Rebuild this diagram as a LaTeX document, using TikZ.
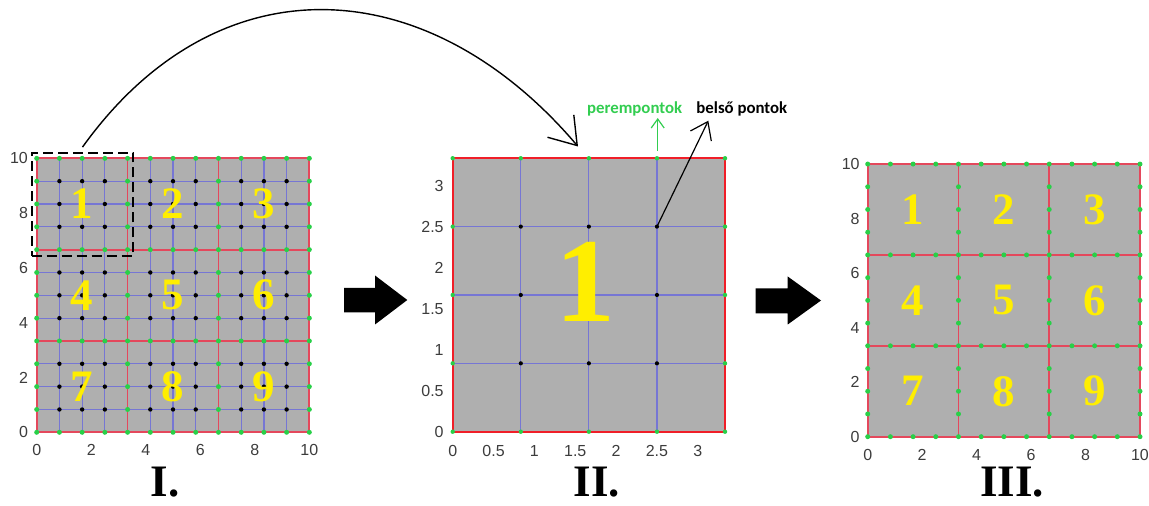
\documentclass[tikz,border=0pt]{standalone}
\usepackage{fontspec}
\setmainfont{Liberation Serif}
\newfontfamily\axisfont{Liberation Sans}
\newfontfamily\labfont{Carlito}
\usetikzlibrary{arrows.meta}
\definecolor{cellgray}{RGB}{175,175,175}
\definecolor{redL}{RGB}{228,72,92}
\definecolor{redM}{RGB}{240,30,40}
\definecolor{gblue}{RGB}{118,118,212}
\definecolor{dotgreen}{RGB}{40,208,72}
\definecolor{labgreen}{RGB}{50,205,80}
\definecolor{numyellow}{RGB}{255,238,0}
\definecolor{tickgray}{RGB}{60,60,60}
\begin{document}
\begin{tikzpicture}[x=0.5pt,y=-0.5pt,
  bline/.style={draw=gblue, line width=0.6pt},
  rlineL/.style={draw=redL, line width=0.85pt},
  rlineM/.style={draw=redM, line width=1pt},
  tick/.style={font=\axisfont\fontsize{8}{8}\selectfont, text=tickgray, inner sep=0pt},
  bignum/.style={font=\bfseries\fontsize{22.5}{22.5}\selectfont, text=numyellow, inner sep=0pt},
  roman/.style={font=\bfseries\fontsize{22.5}{22.5}\selectfont, anchor=base, inner sep=0pt},
  annot/.style={font=\labfont\bfseries\fontsize{8.4}{8.4}\selectfont, anchor=base west, inner sep=0pt},
  blockarrow/.style={fill=black}
]
\useasboundingbox (0,0) rectangle (1149,506);

% ---------- Grid I ----------
\begin{scope}[xshift=18.35pt, yshift=-216.15pt, x=11.36pt, y=11.415pt]
  \fill[cellgray] (0,0) rectangle (12,12);
  \foreach \i in {1,2,3,5,6,7,9,10,11} {
    \draw[bline] (\i,0) -- (\i,12);
    \draw[bline] (0,\i) -- (12,\i);
  }
  \foreach \i in {0,4,8,12} {
    \draw[rlineL] (\i,0) -- (\i,12);
    \draw[rlineL] (0,\i) -- (12,\i);
  }
  \foreach \i in {0,...,12} {
    \foreach \j in {0,...,12} {
      \pgfmathtruncatemacro\onb{(mod(\i,4)==0)||(mod(\j,4)==0)}
      \ifnum\onb=1
        \fill[dotgreen] (\i,\j) circle[radius=1.25pt];
      \else
        \fill[black] (\i,\j) circle[radius=1.1pt];
      \fi
    }
  }
  \foreach \n/\a/\b in {1/2/10,2/6/10,3/10/10,4/2/6,5/6/6,6/10/6,7/2/2,8/6/2,9/10/2}
    \node[bignum] (lnum\n) at (\a,\b) {\n};
  \foreach \v in {0,2,...,10} {
    \node[tick, yshift=-8.85pt] (lx\v) at ({1.2*\v},0) {\v};
    \node[tick, anchor=east, xshift=-4.2pt] (ly\v) at (0,{1.2*\v}) {\v};
  }
\end{scope}

% dashed zoom box
\node[draw, line width=0.9pt, dash pattern=on 5pt off 2.5pt, minimum width=50.8pt,
      minimum height=51.5pt, inner sep=0pt] (zbox) at (82.5,204.2) {};

% ---------- Grid II ----------
\begin{scope}[xshift=226.35pt, yshift=-215.85pt, x=34.04pt, y=34.18pt]
  \fill[cellgray] (0,0) rectangle (4,4);
  \foreach \i in {1,2,3} {
    \draw[bline] (\i,0) -- (\i,4);
    \draw[bline] (0,\i) -- (4,\i);
  }
  \draw[rlineM] (0,0) rectangle (4,4);
  \foreach \i in {0,...,4} {
    \foreach \j in {0,...,4} {
      \pgfmathtruncatemacro\onb{(\i==0)||(\i==4)||(\j==0)||(\j==4)}
      \ifnum\onb=1
        \fill[dotgreen] (\i,\j) circle[radius=1.1pt];
      \else
        \fill[black] (\i,\j) circle[radius=1.05pt];
      \fi
    }
  }
  \coordinate (d33) at (3,3);
  \coordinate (g2top) at (2,4);
  \foreach \v [count=\k] in {0,0.5,1,1.5,2,2.5,3} {
    \node[tick, yshift=-9.5pt] (mx\k) at ({1.2*\v},0) {\v};
    \node[tick, anchor=east, xshift=-4.35pt] (my\k) at (0,{1.2*\v}) {\v};
  }
\end{scope}
\node[font=\bfseries\fontsize{60}{60}\selectfont, text=numyellow, inner sep=0pt] (big1) at (585,282) {1};

% annotations
\node[annot, text=labgreen] (peremL) at (586.7,113.3) {perempontok};
\node[annot, text=black] (belsoL) at (696,113.3) {belső pontok};
\coordinate (gStart) at (657.7,151);
\coordinate (gEnd) at (657.7,118);
\draw[draw=labgreen, line width=0.6pt, -{Straight Barb[length=4.5pt,width=6.5pt]}] (gStart) -- (gEnd);
\coordinate (bTip) at (708.3,120.7);
\draw[line width=0.6pt, -{Straight Barb[length=8pt,width=11.6pt]}] (d33) -- (bTip);

% big curved arrow
\coordinate (cEnd) at (578,146.5);
\draw[line width=0.7pt, -{Straight Barb[length=12.8pt,width=17.3pt]}]
  ([yshift=2.35pt]zbox.north) .. controls (218,-41.7) and (428,-30) .. (cEnd);

% ---------- Grid III ----------
\begin{scope}[xshift=433.85pt, yshift=-218.35pt, x=11.345pt, y=11.36pt]
  \fill[cellgray] (0,0) rectangle (12,12);
  \foreach \i in {0,4,8,12} {
    \draw[rlineL] (\i,0) -- (\i,12);
    \draw[rlineL] (0,\i) -- (12,\i);
  }
  \foreach \i in {0,...,12} {
    \foreach \j in {0,...,12} {
      \pgfmathtruncatemacro\onb{(mod(\i,4)==0)||(mod(\j,4)==0)}
      \ifnum\onb=1
        \fill[dotgreen] (\i,\j) circle[radius=1.25pt];
      \fi
    }
  }
  \foreach \n/\a/\b in {1/2/10,2/6/10,3/10/10,4/2/6,5/6/6,6/10/6,7/2/2,8/6/2,9/10/2}
    \node[bignum] (rnum\n) at (\a,\b) {\n};
  \foreach \v in {0,2,...,10} {
    \node[tick, yshift=-9.15pt] (rx\v) at ({1.2*\v},0) {\v};
    \node[tick, anchor=east, xshift=-3.85pt] (ry\v) at (0,{1.2*\v}) {\v};
  }
\end{scope}

% block arrows
\fill[blockarrow] (344,288) -- (375,288) -- (375,275.5) -- (407.3,300) -- (375,324.5) -- (375,312.5) -- (344,312.5) -- cycle;
\fill[blockarrow] (755.7,288.5) -- (787.7,288.5) -- (787.7,276.5) -- (821,300.5) -- (787.7,324.5) -- (787.7,313.5) -- (755.7,313.5) -- cycle;

% roman numerals
\node[roman] (r1) at (165.2,496) {I.};
\node[roman] (r2) at (596.7,496) {II.};
\node[roman] (r3) at (1012,496) {III.};
\end{tikzpicture}
\end{document}
